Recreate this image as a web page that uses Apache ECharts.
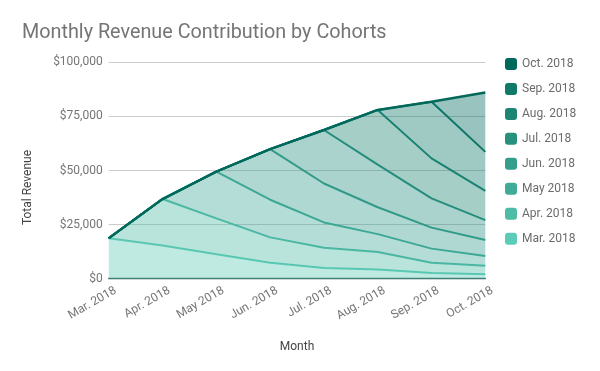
<!DOCTYPE html>
<html>
<head>
<meta charset="utf-8">
<script src="https://cdn.jsdelivr.net/npm/echarts@6/dist/echarts.min.js"></script>
<style>html,body{margin:0;padding:0;background:#fff}#c{width:600px;height:371px}</style>
</head>
<body>
<div id="c"></div>
<script>
const months = ['Mar. 2018','Apr. 2018','May 2018','Jun. 2018','Jul. 2018','Aug. 2018','Sep. 2018','Oct. 2018'];
const cohortNames = ['Mar. 2018','Apr. 2018','May 2018','Jun. 2018','Jul. 2018','Aug. 2018','Sep. 2018','Oct. 2018'];
const mar = [18700, 15300, 11300, 7400, 5000, 4200, 2600, 2000];
const apr = [0, 21500, 16600, 11700, 9300, 8100, 4800, 4000];
const may = [0, 0, 21600, 17400, 11700, 8300, 6500, 4500];
const jun = [0, 0, 0, 23400, 18000, 12400, 9700, 7400];
const jul = [0, 0, 0, 0, 24700, 19700, 13500, 9200];
const aug = [0, 0, 0, 0, 0, 25300, 18500, 13500];
const sep = [0, 0, 0, 0, 0, 0, 26200, 18000];
const oct = [0, 0, 0, 0, 0, 0, 0, 27400];
const yTicks = [0, 25000, 50000, 75000, 100000];

const cohortValues = [mar, apr, may, jun, jul, aug, sep, oct];
const colors = ['#5ccbb7','#4dbba6','#40ab98','#349d8b','#27907f','#1d8574','#0f7a6a','#00695c'];

const chart = echarts.init(document.getElementById('c'), null, {renderer:'canvas'});
const font = 'Roboto, "Noto Sans", sans-serif';
chart.setOption({
  animation: false,
  color: colors,
  textStyle: {fontFamily: font},
  title: {
    text: 'Monthly Revenue Contribution by Cohorts',
    left: 17, top: 18,
    textStyle: {fontFamily: font, fontSize: 19.8, fontWeight: 'normal', color: '#757575'}
  },
  legend: {
    orient: 'vertical',
    left: 500, top: 53,
    itemWidth: 12, itemHeight: 12, itemGap: 12.95,
    icon: 'roundRect',
    data: cohortNames.slice().reverse(),
    textStyle: {fontFamily: font, fontSize: 12, color: '#6b6b6b', padding: [0,0,0,0]}
  },
  grid: {left: 108.7, right: 114.7, top: 62.3, bottom: 92.3},
  xAxis: {
    type: 'category',
    data: months,
    boundaryGap: false,
    name: 'Month',
    nameLocation: 'middle',
    nameGap: 62,
    nameTextStyle: {fontFamily: font, fontSize: 12, color: '#444'},
    axisLine: {show: true, lineStyle: {color: '#37605a', width: 1.3}},
    axisTick: {show: false},
    axisLabel: {rotate: 30, fontFamily: font, fontSize: 12, color: '#757575', margin: 15, interval: 0, padding: [0, -8, 0, 0]},
    splitLine: {show: false}
  },
  yAxis: {
    type: 'value',
    min: yTicks[0], max: yTicks[yTicks.length-1], interval: 25000,
    name: 'Total Revenue',
    nameLocation: 'middle',
    nameGap: 75,
    nameTextStyle: {fontFamily: font, fontSize: 12, color: '#444', padding: [0,0,0,-34]},
    axisLine: {show: false},
    axisTick: {show: false},
    axisLabel: {fontFamily: font, fontSize: 12, color: '#757575', margin: 6,
      formatter: v => '$' + v.toLocaleString('en-US')},
    splitLine: {lineStyle: {color: '#cccccc', width: 1}}
  },
  series: cohortValues.map((vals, i) => ({
    name: cohortNames[i],
    type: 'line',
    stack: 'total',
    data: vals,
    symbol: 'none',
    lineStyle: {width: i === 7 ? 2.5 : 2, color: colors[i]},
    itemStyle: {color: colors[i]},
    areaStyle: {color: colors[i], opacity: 0.4},
    z: 2 + i
  }))
});
</script>
</body>
</html>
